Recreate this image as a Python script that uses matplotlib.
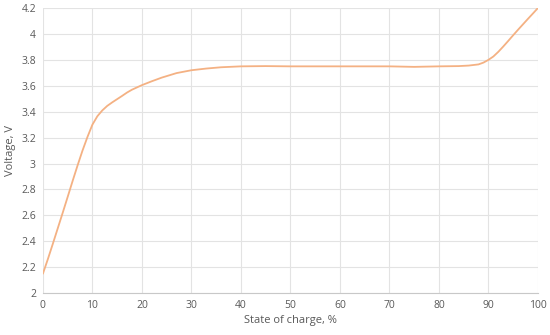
import matplotlib
matplotlib.use("Agg")
import matplotlib.pyplot as plt

# state of charge (%) and cell voltage (V)
soc = [0, 1, 2, 3, 4, 5, 6, 7, 8, 9, 10, 11, 12, 13, 14, 15, 16, 17, 18,
       20, 22, 24, 27, 30, 33, 36, 40, 45, 50, 60, 70, 75, 80, 84, 86,
       88, 89, 90, 91, 92, 93, 94, 95, 96, 97, 98, 99, 100]
voltage = [2.15, 2.262, 2.38, 2.5, 2.62, 2.742, 2.865, 2.985, 3.1, 3.205,
           3.3, 3.365, 3.41, 3.445, 3.472, 3.497, 3.522, 3.548, 3.57,
           3.605, 3.635, 3.663, 3.698, 3.72, 3.733, 3.743, 3.75, 3.752, 3.75,
           3.75, 3.75, 3.746, 3.75, 3.752, 3.756, 3.765, 3.779, 3.8,
           3.826, 3.862, 3.903, 3.946, 3.99, 4.033, 4.075, 4.117, 4.158, 4.2]

x_ticks = list(range(0, 101, 10))
y_ticks = [2, 2.2, 2.4, 2.6, 2.8, 3, 3.2, 3.4, 3.6, 3.8, 4, 4.2]
y_labels = ["2", "2.2", "2.4", "2.6", "2.8", "3", "3.2", "3.4", "3.6", "3.8", "4", "4.2"]

plt.rcParams["font.family"] = ["Open Sans", "DejaVu Sans"]
text_color = "#595959"

fig = plt.figure(figsize=(5.5, 3.35), dpi=100)
ax = fig.add_axes([0.078, 0.125, 0.9, 0.851])

ax.plot(soc, voltage, color="#F4B183", linewidth=1.3,
        solid_capstyle="round", solid_joinstyle="round")

ax.set_xlim(0, 100)
ax.set_ylim(2, 4.2)
ax.set_xticks(x_ticks)
ax.set_yticks(y_ticks)
ax.set_yticklabels(y_labels)
ax.grid(True, color="#E3E3E3", linewidth=0.8)
ax.set_axisbelow(True)

for side in ["top", "right", "left"]:
    ax.spines[side].set_visible(False)
ax.spines["bottom"].set_color("#C8C8C8")
ax.spines["bottom"].set_linewidth(0.8)

ax.tick_params(axis="both", length=0, labelsize=7.5, labelcolor=text_color, pad=5)
ax.set_xlabel("State of charge, %", fontsize=8, color=text_color, labelpad=3)
ax.set_ylabel("Voltage, V", fontsize=8, color=text_color, labelpad=4)

fig.savefig("out.png", dpi=100)
